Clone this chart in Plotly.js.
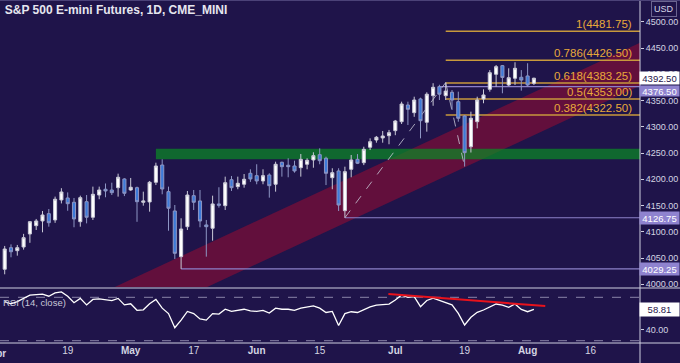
<!DOCTYPE html>
<html>
<head>
<meta charset="utf-8">
<script src="https://cdn.plot.ly/plotly-3.0.1.min.js"></script>
<style>html,body{margin:0;padding:0;background:#1f144a;}#chart{width:680px;height:363px;}</style>
</head>
<body>
<div id="chart"></div>
<script>
// ---- data ----
const dates = [
 '2021-04-05','2021-04-06','2021-04-07','2021-04-08','2021-04-09','2021-04-12','2021-04-13','2021-04-14','2021-04-15','2021-04-16',
 '2021-04-19','2021-04-20','2021-04-21','2021-04-22','2021-04-23','2021-04-26','2021-04-27','2021-04-28','2021-04-29','2021-04-30',
 '2021-05-03','2021-05-04','2021-05-05','2021-05-06','2021-05-07','2021-05-10','2021-05-11','2021-05-12','2021-05-13','2021-05-14',
 '2021-05-17','2021-05-18','2021-05-19','2021-05-20','2021-05-21','2021-05-24','2021-05-25','2021-05-26','2021-05-27','2021-05-28',
 '2021-06-01','2021-06-02','2021-06-03','2021-06-04','2021-06-07','2021-06-08','2021-06-09','2021-06-10','2021-06-11','2021-06-14',
 '2021-06-15','2021-06-16','2021-06-17','2021-06-18','2021-06-21','2021-06-22','2021-06-23','2021-06-24','2021-06-25','2021-06-28',
 '2021-06-29','2021-06-30','2021-07-01','2021-07-02','2021-07-06','2021-07-07','2021-07-08','2021-07-09','2021-07-12','2021-07-13',
 '2021-07-14','2021-07-15','2021-07-16','2021-07-19','2021-07-20','2021-07-21','2021-07-22','2021-07-23','2021-07-26','2021-07-27',
 '2021-07-28','2021-07-29','2021-07-30','2021-08-02','2021-08-03'];
const open = [4028.6,4069.7,4064,4071,4095.8,4111.6,4120.6,4134.5,4122.5,4160.6,
 4164.4,4156.2,4119.2,4157.3,4127.6,4170,4181,4179.6,4184,4200.6,
 4179.6,4184,4156.2,4156.8,4194.3,4227.2,4176.4,4139.6,4052.6,4109.7,
 4168.8,4158.7,4113,4106.7,4153,4149.7,4199.2,4186,4190.5,4211.4,
 4206.9,4196.8,4208.2,4190.5,4232.4,4226.7,4225.3,4222.1,4228.6,4236.8,
 4246.9,4240,4203,4215.8,4140.2,4219,4238,4231.6,4261,4274.8,
 4278.7,4283,4292.6,4309.7,4341.5,4326.9,4353,4308.6,4359.2,4376.4,
 4359.2,4365.7,4347.8,4320.6,4262,4309.7,4353,4371.4,4400,4416.4,
 4379.6,4392.4,4394.3,4396.8,4382.8];
const high = [4073,4076,4074.9,4096,4120.5,4124.4,4139.6,4143.4,4167,4183,
 4175,4164.4,4168.8,4170,4186,4186,4192,4193.5,4210.7,4202,
 4202.5,4186,4176.4,4196.8,4231.6,4238,4186,4151,4125.7,4177.7,
 4179.6,4179.6,4122.5,4168.8,4184.8,4205,4206.3,4205,4210,4219,
 4228.6,4219,4211.4,4233.5,4233.5,4240,4235.4,4248.2,4240,4251.4,
 4259,4243,4221,4221,4224,4246.3,4248,4262,4278,4282.5,
 4292,4294,4313,4347.8,4347.8,4357.3,4355.4,4365.7,4383,4380,
 4384.25,4370,4366.9,4322,4328.8,4357.3,4371.4,4408,4417.7,4417.7,
 4411.4,4422.9,4408,4421,4393.5];
const low = [4019,4051.4,4054.5,4066,4079,4103.4,4099,4109.7,4117,4154,
 4140,4108.6,4109.7,4116,4122.5,4162,4165.7,4170,4166.9,4168,
 4178,4119,4149.7,4138.3,4189,4171.4,4102,4048.2,4029.25,4103.4,
 4141.5,4108.6,4052.6,4083,4146,4141.5,4177.7,4181,4184,4195,
 4190.5,4190.5,4165,4176.4,4205,4203.8,4212.6,4205,4219,4222,
 4228.6,4189,4181,4139.6,4126.75,4203.8,4229,4227,4255.8,4269.7,
 4269.7,4266.7,4284,4305.3,4303.4,4319,4278,4290.7,4340,4351,
 4351,4332,4309.7,4224.25,4251,4297,4344.8,4366.9,4376.4,4363.8,
 4377.7,4379.6,4368.8,4376.4,4379.6];
const close = [4067.2,4062,4069.7,4088.8,4119.2,4120.6,4132,4117.3,4162,4175.8,
 4153.5,4124.4,4165,4127.6,4171.4,4179.6,4177.7,4174.5,4203.8,4173.3,
 4184.8,4157.3,4158.7,4194.3,4225.3,4181.5,4144.8,4059,4105.3,4170,
 4156.2,4120.6,4109.7,4153,4150.5,4193.5,4184,4192.4,4200,4200.6,
 4196.8,4206.9,4187.8,4228.6,4224,4224,4215.8,4238,4236.2,4245,
 4235.4,4211.4,4212.6,4151,4214.5,4236.8,4230.5,4257,4271.6,4280,
 4282.5,4288.8,4311,4343.4,4333.3,4351,4311.6,4362,4375.2,4362,
 4368,4351,4316.2,4250.7,4316.2,4351,4360.6,4403,4414.5,4394,
 4393.5,4411.4,4389,4379.6,4392.5];
const rsi = [66,64,66,69,72,72.5,73,71,74,75,
 71,65,69,63,68,68.5,68,67,69,63,
 64,58,58.5,64,68,60,55,42,49,57,
 55,50,49,55,54.5,59,57,58,59,57.5,
 57,58,55.5,60,59,59,58,60,61,62,
 60,56,57,44,55,56.7,56,58.8,61.2,62.8,
 63.4,63.7,67.5,72.1,70,70.6,61.4,67.1,69.2,67.1,
 65.3,63,55.2,44.5,51.6,56.2,58.3,60.7,63.8,62.8,
 60.7,63.8,58.8,56.7,58.81];

const tickPos = [10,20,30,40,50,62,73,83,93];
const tickText = ['19','<b>May</b>','17','<b>Jun</b>','15','<b>Jul</b>','19','<b>Aug</b>','16'];
const priceTicks = [4000,4050,4100,4150,4200,4250,4300,4350,4400,4450,4500];
const rsiTicks = [40];

const fibRatios = ['1','0.786','0.618','0.5','0.382'];
const fibLevels = [4481.75,4426.50,4383.25,4353.00,4322.50];
const fibStart = 70;
const hLevels = [4376.50,4126.75,4029.25];
const hStart = [69,54,28];
const zigzag = [[54,4126.75],[70,4384.25],[73,4224.25]];
const channelUpper = [[-1,3891.7],[101,4460.9]];
const channelLower = [[-1,3809.8],[101,4379.0]];
const zone = {x0:24, y0:4238, y1:4258};
const rsiTrend = [[60.9,73],[85.8,62]];
const rsiBands = [70,30];
const lastPrice = 4392.50, lastRsi = 58.81;

// ---- build ----
const xi = dates.map((d,i)=>i);
const BG = '#1f144a';
const FONT = 'Liberation Sans, Arial, sans-serif';
const XR = [-0.746,100.84];
const PH = 343; // plot height in px

const traces = [
 {type:'candlestick', x:xi, open:open, high:high, low:low, close:close,
  xaxis:'x', yaxis:'y', hoverinfo:'skip',
  increasing:{line:{color:'#c9c9d6',width:1}, fillcolor:'#ffffff'},
  decreasing:{line:{color:'#8e96c4',width:1}, fillcolor:'#3d7ad9'},
  whiskerwidth:0},
 {type:'scatter', mode:'lines', x:xi, y:rsi, xaxis:'x', yaxis:'y2',
  line:{color:'#ffffff', width:1.3}, hoverinfo:'skip'}
];

const shapes = [];
shapes.push({type:'path', xref:'x', yref:'y', layer:'below',
  path:`M ${channelUpper[0][0]},${channelUpper[0][1]} L ${channelUpper[1][0]},${channelUpper[1][1]} L ${channelLower[1][0]},${channelLower[1][1]} L ${channelLower[0][0]},${channelLower[0][1]} Z`,
  fillcolor:'rgba(190,10,40,0.42)', line:{width:0}});
shapes.push({type:'rect', xref:'x', yref:'y', layer:'below', x0:zone.x0, x1:XR[1]+1, y0:zone.y0, y1:zone.y1,
  fillcolor:'rgba(10,140,35,0.7)', line:{width:0}});
fibLevels.forEach(v=>shapes.push({type:'line', xref:'x', yref:'y', layer:'below', x0:fibStart, x1:XR[1]+1, y0:v, y1:v, line:{color:'#c8993c', width:1.5}}));
hLevels.forEach((v,j)=>shapes.push({type:'line', xref:'x', yref:'y', layer:'below', x0:hStart[j], x1:XR[1]+1, y0:v, y1:v, line:{color:'#8c80c8', width:1.2}}));
for (let j=0;j<zigzag.length-1;j++){
  shapes.push({type:'line', xref:'x', yref:'y', layer:'below', x0:zigzag[j][0], y0:zigzag[j][1], x1:zigzag[j+1][0], y1:zigzag[j+1][1], line:{color:'rgba(200,200,215,0.8)', width:1, dash:'dash'}});
}
rsiBands.forEach(v=>shapes.push({type:'line', xref:'x', yref:'y2', layer:'below', x0:XR[0], x1:XR[1], y0:v, y1:v, line:{color:'#8a84a8', width:1, dash:'dash'}}));
shapes.push({type:'line', xref:'x', yref:'y2', x0:rsiTrend[0][0], y0:rsiTrend[0][1], x1:rsiTrend[1][0], y1:rsiTrend[1][1], line:{color:'#e8121c', width:2}});
// separators / frame
shapes.push({type:'line', xref:'paper', yref:'paper', x0:0, x1:1.07, y0:(PH-288)/PH, y1:(PH-288)/PH, line:{color:'#cfcfe0', width:1}});
shapes.push({type:'line', xref:'paper', yref:'paper', x0:0, x1:1.07, y0:0, y1:0, line:{color:'#cfcfe0', width:1}});
shapes.push({type:'line', xref:'paper', yref:'paper', x0:1, x1:1, y0:-0.07, y1:1.01, line:{color:'#cfcfe0', width:1}});
shapes.push({type:'line', xref:'paper', yref:'paper', x0:0, x1:1.07, y0:1-0.5/PH, y1:1-0.5/PH, line:{color:'#4b4278', width:1}});

const annotations = [];
fibLevels.forEach((v,j)=>annotations.push({xref:'paper', yref:'y', x:0.99, y:v, xanchor:'right', yanchor:'bottom', yshift:-1,
  text:fibRatios[j]+'('+v.toFixed(2)+')', showarrow:false, font:{family:FONT, size:11.5, color:'#e8a93a'}}));
function tag(yref, v, txt, bg, fc, ys, h){
  annotations.push({xref:'paper', yref:yref, x:1.0625, y:v, xanchor:'right', yanchor:'middle', yshift:ys, text:txt, showarrow:false,
    bgcolor:bg, width:37, height:h, borderpad:1, font:{family:FONT, size:9.5, color:fc}});
}
tag('y', lastPrice, lastPrice.toFixed(2), '#ffffff', '#1f144a', 0, 10);
tag('y', hLevels[0], hLevels[0].toFixed(2), '#8f83cf', '#ffffff', -4, 8);
tag('y', hLevels[1], hLevels[1].toFixed(2), '#8f83cf', '#ffffff', 0, 10);
tag('y', hLevels[2], hLevels[2].toFixed(2), '#8f83cf', '#ffffff', 0, 10);
tag('y2', lastRsi, lastRsi.toFixed(2), '#ffffff', '#1f144a', 0, 11);
annotations.push({xref:'paper', yref:'paper', x:0.002, y:(PH-302)/PH, xanchor:'left', yanchor:'middle', text:'RSI (14, close)', showarrow:false,
  font:{family:FONT, size:9.5, color:'#c8c8d8'}});
annotations.push({xref:'paper', yref:'paper', x:664/640, y:(PH-9)/PH, xanchor:'center', yanchor:'middle', text:'USD', showarrow:false,
  bordercolor:'#6a6490', borderwidth:1, borderpad:2, bgcolor:BG, font:{family:FONT, size:9, color:'#d8d8e8'}});
annotations.push({xref:'paper', yref:'paper', x:-3/640, y:-10/PH, xanchor:'center', yanchor:'middle', text:'<b>Apr</b>', showarrow:false,
  font:{family:FONT, size:10, color:'#d4d4e2'}});

const layout = {
  width:680, height:363,
  margin:{l:0, r:40, t:0, b:20},
  paper_bgcolor:BG, plot_bgcolor:BG,
  showlegend:false,
  title:{text:'<b>S&P 500 E-mini Futures, 1D, CME_MINI</b>', x:0.007, xanchor:'left', xref:'container', y:1-10/363, yref:'container', yanchor:'middle',
    font:{family:FONT, size:12, color:'#e6e6ef'}},
  xaxis:{range:XR, anchor:'y2', showgrid:false, zeroline:false, showline:false, rangeslider:{visible:false},
    tickmode:'array', tickvals:tickPos, ticktext:tickText, ticks:'', tickfont:{family:FONT, size:10, color:'#d4d4e2'}},
  yaxis:{domain:[(PH-287)/PH,1], range:[3994.8,4541.5], side:'right', showgrid:false, zeroline:false,
    tickmode:'array', tickvals:priceTicks, ticktext:priceTicks.map(v=>v.toFixed(2)),
    ticks:'outside', ticklen:3, tickcolor:'#cfcfe0', tickfont:{family:FONT, size:9, color:'#d4d4e2'}},
  yaxis2:{domain:[0,(PH-289)/PH], range:[27.88,77.65], side:'right', showgrid:false, zeroline:false,
    tickmode:'array', tickvals:rsiTicks, ticktext:rsiTicks.map(v=>v.toFixed(2)),
    ticks:'outside', ticklen:3, tickcolor:'#cfcfe0', tickfont:{family:FONT, size:9, color:'#d4d4e2'}},
  shapes:shapes, annotations:annotations
};
Plotly.newPlot('chart', traces, layout, {staticPlot:true, displayModeBar:false});
</script>
</body>
</html>
